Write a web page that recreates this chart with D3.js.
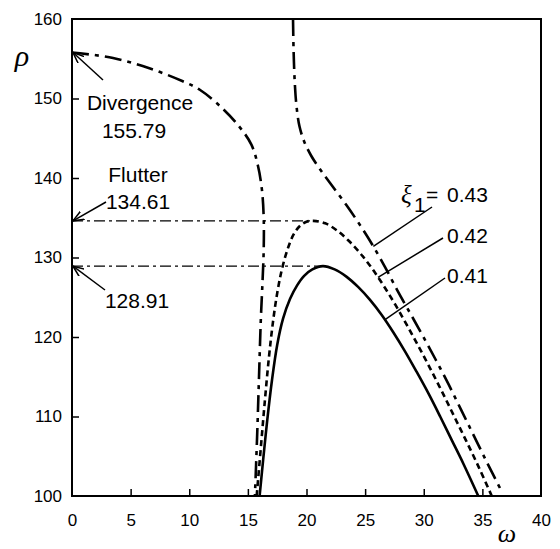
<!DOCTYPE html>
<html>
<head>
<meta charset="utf-8">
<script src="https://cdn.jsdelivr.net/npm/d3@7"></script>
<style>
  html, body { margin: 0; padding: 0; background: #fff; }
  svg { display: block; }
  .tick text { font-family: "Liberation Sans", Arial, sans-serif; font-size: 17px; fill: #000; }
  .note { font-family: "Liberation Sans", Arial, sans-serif; font-size: 21px; fill: #000; }
  .greek { font-family: "Liberation Serif", "Times New Roman", serif; font-style: italic; fill: #000; }
</style>
</head>
<body>
<svg id="chart" width="560" height="549"></svg>
<script>
// Stability boundaries: air density parameter rho against frequency omega
const xTicks = [0, 5, 10, 15, 20, 25, 30, 35, 40];
const yTicks = [100, 110, 120, 130, 140, 150, 160];

// xi1 = 0.43 : divergence branch (starts at 155.79) and upper branch
const curve043Left = [
  [0, 155.79], [3.5, 155.1], [6.6, 153.8], [9.4, 152.2], [10.9, 151.1],
  [12.8, 148.8], [14.3, 146.4], [15.3, 144.2], [15.85, 141.6], [16.2, 138.5],
  [16.35, 135], [16.35, 131], [16.25, 127], [16.1, 122], [15.95, 115],
  [15.8, 108], [15.6, 100]
];
const curve043Right = [
  [18.85, 160], [18.9, 156], [19.0, 152], [19.15, 149], [19.4, 146.5],
  [19.8, 144.6], [20.4, 142.8], [21.2, 141.0], [22.2, 139.0], [23.4, 136.6],
  [24.6, 134.0], [25.7, 131.4], [26.7, 128.8], [27.7, 126.0], [28.8, 123.1],
  [29.9, 120.2], [31.0, 117.2], [32.1, 114.1], [33.2, 110.8], [34.3, 107.5],
  [35.4, 104.2], [36.5, 101.0]
];
// xi1 = 0.42 : flutter boundary with peak 134.61
const curve042 = [
  [15.75, 100], [16.1, 106], [16.45, 112], [16.8, 117.5], [17.15, 122],
  [17.5, 125.5], [17.9, 128.5], [18.4, 131.1], [18.9, 132.9], [19.45, 134.0],
  [20.0, 134.5], [20.6, 134.61], [21.6, 134.3], [22.6, 133.4], [23.6, 132.1],
  [24.6, 130.5], [25.6, 128.6], [26.6, 126.4], [27.6, 124.0], [28.6, 121.4],
  [29.6, 118.7], [30.6, 115.9], [31.6, 113.0], [32.6, 110.0], [33.6, 107.0],
  [34.7, 103.6], [35.8, 100]
];
// xi1 = 0.41 : flutter boundary with peak 128.91
const curve041 = [
  [16.0, 100], [16.3, 104.5], [16.65, 109.5], [17.05, 114.5], [17.5, 119],
  [18.0, 122.3], [18.6, 124.8], [19.2, 126.5], [19.8, 127.7], [20.5, 128.5],
  [21.4, 128.91], [22.4, 128.5], [23.4, 127.6], [24.4, 126.3],
  [25.4, 124.7], [26.4, 122.8], [27.4, 120.6], [28.4, 118.2], [29.4, 115.6],
  [30.4, 112.9], [31.4, 110.0], [32.4, 107.0], [33.4, 104.0], [34.65, 100]
];

const divergenceValue = 155.79;
const flutterValues = [
  { rho: 134.61, peakOmega: 20.6 },
  { rho: 128.91, peakOmega: 21.4 }
];
const xiLabels = [
  { text: "0.43", from: [432, 207], at: [25.7, 131.4] },
  { text: "0.42", from: [443, 238], at: [26.1, 127.5] },
  { text: "0.41", from: [445, 278], at: [26.7, 122.2] }
];

const svg = d3.select("#chart");
const x = d3.scaleLinear().domain([0, 40]).range([72, 541]);
const y = d3.scaleLinear().domain([100, 160]).range([496, 19]);

// arrow head marker
svg.append("defs").append("marker")
  .attr("id", "arrow")
  .attr("viewBox", "0 0 12 10")
  .attr("refX", 11).attr("refY", 5)
  .attr("markerWidth", 12).attr("markerHeight", 10)
  .attr("markerUnits", "userSpaceOnUse")
  .attr("orient", "auto")
  .append("path")
  .attr("d", "M0,0.5 L11,5 L0,9.5")
  .attr("fill", "none").attr("stroke", "#000").attr("stroke-width", 1.6);

// axes with inward ticks
const xAxis = svg.append("g").attr("transform", `translate(0,${y(100)})`)
  .call(d3.axisBottom(x).tickValues(xTicks).tickSize(-7).tickPadding(18).tickFormat(d3.format("d")));
const yAxis = svg.append("g").attr("transform", `translate(${x(0)},0)`)
  .call(d3.axisLeft(y).tickValues(yTicks).tickSize(-7).tickPadding(10).tickFormat(d3.format("d")));
[xAxis, yAxis].forEach(g => {
  g.select(".domain").remove();
  g.selectAll(".tick line").attr("stroke", "#000").attr("stroke-width", 1.5);
});
yAxis.selectAll(".tick").filter(d => d === 160 || d === 100).select("line").remove();
xAxis.selectAll(".tick").filter(d => d === 0 || d === 40).select("line").remove();

// frame
svg.append("rect")
  .attr("x", x(0)).attr("y", y(160))
  .attr("width", x(40) - x(0)).attr("height", y(100) - y(160))
  .attr("fill", "none").attr("stroke", "#000").attr("stroke-width", 2);

// horizontal reference lines at the flutter values
flutterValues.forEach(f => {
  svg.append("line")
    .attr("x1", x(0)).attr("x2", x(f.peakOmega))
    .attr("y1", y(f.rho)).attr("y2", y(f.rho))
    .attr("stroke", "#000").attr("stroke-width", 1.4)
    .attr("stroke-dasharray", "11,4,3,4");
});

const line = d3.line().x(d => x(d[0])).y(d => y(d[1])).curve(d3.curveCatmullRom.alpha(0.5));

const plot = svg.append("g").attr("fill", "none").attr("stroke", "#000");
plot.append("path").datum(curve043Left).attr("d", line)
  .attr("stroke-width", 2.6).attr("stroke-dasharray", "17,6,4,6");
plot.append("path").datum(curve043Right).attr("d", line)
  .attr("stroke-width", 2.6).attr("stroke-dasharray", "17,6,4,6");
plot.append("path").datum(curve042).attr("d", line)
  .attr("stroke-width", 2.6).attr("stroke-dasharray", "6,4");
plot.append("path").datum(curve041).attr("d", line)
  .attr("stroke-width", 2.6);

// leader lines and labels for xi1
xiLabels.forEach(l => {
  svg.append("line")
    .attr("x1", l.from[0]).attr("y1", l.from[1])
    .attr("x2", x(l.at[0])).attr("y2", y(l.at[1]))
    .attr("stroke", "#000").attr("stroke-width", 1.5);
});
svg.append("text").attr("class", "greek").attr("x", 401).attr("y", 203)
  .attr("font-size", 25).text("ξ");
svg.append("text").attr("class", "note").attr("x", 414).attr("y", 212)
  .attr("font-size", 13).text("1");
svg.append("text").attr("class", "note").attr("x", 426).attr("y", 202).text("=");
const yLab = [202, 243, 283];
xiLabels.forEach((l, i) => {
  svg.append("text").attr("class", "note").attr("x", 447).attr("y", yLab[i]).text(l.text);
});

// divergence and flutter annotations
svg.append("text").attr("class", "note").attr("x", 140).attr("y", 110)
  .attr("text-anchor", "middle").text("Divergence");
svg.append("text").attr("class", "note").attr("x", 134).attr("y", 138)
  .attr("text-anchor", "middle").text(d3.format(".2f")(divergenceValue));
svg.append("text").attr("class", "note").attr("x", 138).attr("y", 182)
  .attr("text-anchor", "middle").text("Flutter");
svg.append("text").attr("class", "note").attr("x", 138).attr("y", 209)
  .attr("text-anchor", "middle").text(d3.format(".2f")(flutterValues[0].rho));
svg.append("text").attr("class", "note").attr("x", 137).attr("y", 308)
  .attr("text-anchor", "middle").text(d3.format(".2f")(flutterValues[1].rho));

const arrows = [
  { from: [103, 80], to: [x(0) + 1, y(divergenceValue)] },
  { from: [106, 202], to: [x(0) + 1, y(flutterValues[0].rho)] },
  { from: [105, 290], to: [x(0) + 1, y(flutterValues[1].rho)] }
];
arrows.forEach(a => {
  svg.append("line")
    .attr("x1", a.from[0]).attr("y1", a.from[1])
    .attr("x2", a.to[0]).attr("y2", a.to[1])
    .attr("stroke", "#000").attr("stroke-width", 1.5)
    .attr("marker-end", "url(#arrow)");
});

// axis symbols
svg.append("text").attr("class", "greek").attr("x", 22).attr("y", 66)
  .attr("text-anchor", "middle").attr("font-size", 30).text("ρ");
svg.append("text").attr("class", "greek").attr("x", 507).attr("y", 542)
  .attr("text-anchor", "middle").attr("font-size", 26).text("ω");
</script>
</body>
</html>
